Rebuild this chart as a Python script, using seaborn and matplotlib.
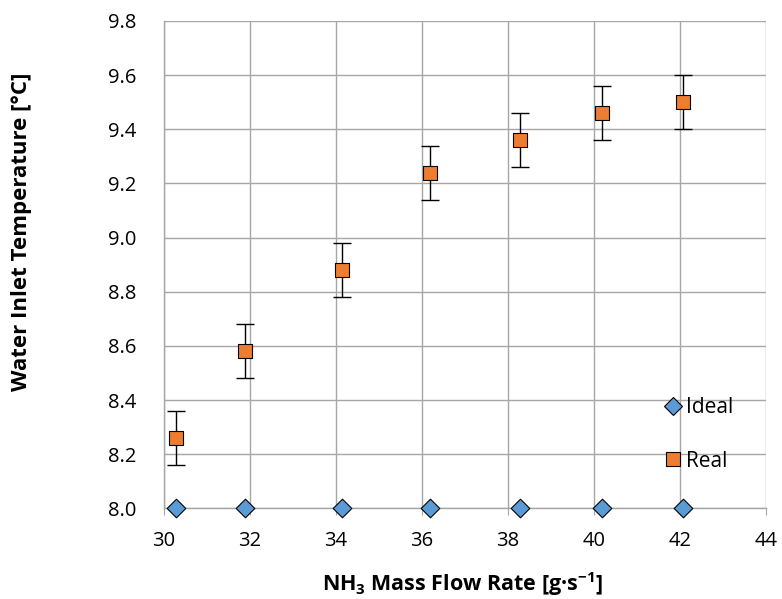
import matplotlib
matplotlib.use("Agg")
import matplotlib.pyplot as plt
import seaborn as sns
import pandas as pd
from matplotlib.lines import Line2D

# Measured data
flow_rate = [30.29, 31.89, 34.15, 36.19, 38.29, 40.20, 42.08]
ideal_temp = [8.0, 8.0, 8.0, 8.0, 8.0, 8.0, 8.0]
real_temp = [8.26, 8.58, 8.88, 9.24, 9.36, 9.46, 9.50]
real_err = [0.1, 0.1, 0.1, 0.1, 0.1, 0.1, 0.1]

x_ticks = [30, 32, 34, 36, 38, 40, 42, 44]
y_ticks = [8.0, 8.2, 8.4, 8.6, 8.8, 9.0, 9.2, 9.4, 9.6, 9.8]

df = pd.DataFrame({"flow": flow_rate, "ideal": ideal_temp, "real": real_temp, "err": real_err})

sns.set_style("white")
plt.rcParams["font.family"] = ["Open Sans", "DejaVu Sans"]
plt.rcParams["mathtext.fontset"] = "custom"
plt.rcParams["mathtext.bf"] = "Open Sans:bold"
plt.rcParams["mathtext.rm"] = "Open Sans"
plt.rcParams["text.color"] = "black"
plt.rcParams["axes.labelcolor"] = "black"
plt.rcParams["xtick.labelcolor"] = "black"
plt.rcParams["ytick.labelcolor"] = "black"

fig = plt.figure(figsize=(7.82, 5.99), dpi=100)
ax = fig.add_axes([0.2093, 0.1514, 0.7700, 0.8136])

grid_col = "#a6a6a6"
blue = "#5b9bd5"
orange = "#ed7d31"

ax.errorbar(df["flow"], df["real"], yerr=df["err"], fmt="none", ecolor="black",
            elinewidth=1.0, capsize=6.5, capthick=1.0, zorder=3)
sns.scatterplot(data=df, x="flow", y="real", marker="s", s=100, color=orange,
                edgecolor="black", linewidth=0.8, ax=ax, zorder=4, legend=False)
sns.scatterplot(data=df, x="flow", y="ideal", marker="D", s=90, color=blue,
                edgecolor="black", linewidth=0.8, ax=ax, zorder=5, legend=False,
                clip_on=False)

ax.set_xlim(30, 44)
ax.set_ylim(8.0, 9.8)
ax.set_xticks(x_ticks)
ax.set_yticks(y_ticks)
ax.set_xticklabels([str(v) for v in x_ticks])
ax.set_yticklabels([f"{v:.1f}" for v in y_ticks])
ax.grid(True, color=grid_col, linewidth=1.0)
ax.set_axisbelow(True)

for side in ["top", "right"]:
    ax.spines[side].set_visible(False)
for side in ["left", "bottom"]:
    ax.spines[side].set_color(grid_col)
    ax.spines[side].set_linewidth(1.0)

ax.tick_params(axis="x", which="both", direction="out", length=5, color=grid_col,
               labelsize=14.5, pad=11, bottom=True, labelcolor="black")
ax.tick_params(axis="y", which="both", length=0, labelsize=14.5, pad=20,
               labelcolor="black")

ax.set_xlabel(r"NH$_\mathbf{3}$ Mass Flow Rate [g·s$^{\mathbf{-1}}$]",
              fontsize=15.5, fontweight="bold", va="center", color="black")
ax.xaxis.set_label_coords(0.497, -0.156)
ax.set_ylabel("Water Inlet Temperature [°C]", fontsize=16, fontweight="bold",
              va="center", color="black")
ax.yaxis.set_label_coords(-0.236, 0.567)

handles = [
    Line2D([], [], marker="D", linestyle="none", markersize=9.5, markerfacecolor=blue,
           markeredgecolor="black", markeredgewidth=0.8),
    Line2D([], [], marker="s", linestyle="none", markersize=10, markerfacecolor=orange,
           markeredgecolor="black", markeredgewidth=0.8),
]
ax.legend(handles, ["Ideal", "Real"], loc="lower right", bbox_to_anchor=(0.977, 0.037),
          frameon=False, fontsize=15, handletextpad=0.1, labelspacing=1.55,
          handlelength=1.0, labelcolor="black")

fig.savefig("out.png", dpi=100)
